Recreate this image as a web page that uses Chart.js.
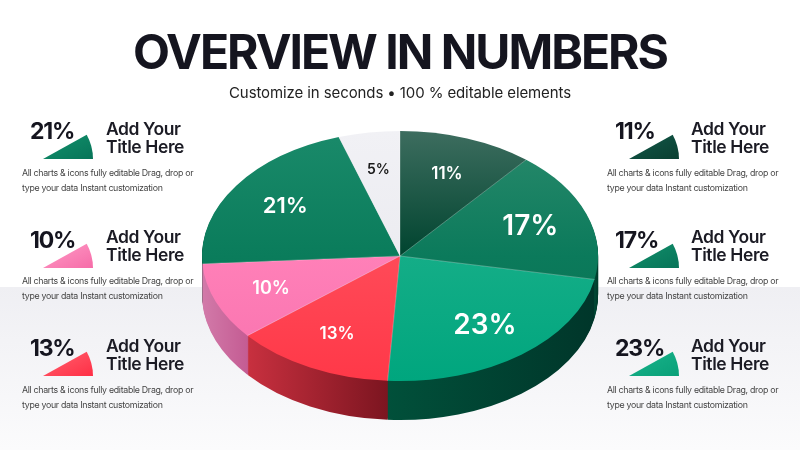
<!DOCTYPE html>
<html>
<head>
<meta charset="utf-8">
<script src="https://cdn.jsdelivr.net/npm/chart.js@4.4.1/dist/chart.umd.min.js"></script>
<style>
  body { margin: 0; width: 800px; height: 450px; overflow: hidden; background: #fff; font-family: Inter, "Noto Sans", sans-serif; position: relative; color: #1b1b24; }
  .band { position: absolute; left: 0; top: 287px; width: 800px; height: 163px; background: linear-gradient(#efeff3, #fbfbfc); }
  #chartBox { position: absolute; left: 0; top: 0; width: 800px; height: 450px; }
  .title { position: absolute; left: 0; width: 800px; top: 24px; text-align: center; font-size: 48px; font-weight: 700; letter-spacing: -2px; line-height: 56px; color: #15151f; }
  .subtitle { position: absolute; left: 0; width: 800px; top: 83px; text-align: center; font-size: 15px; letter-spacing: -0.1px; line-height: 20px; color: #222; }
  .pct { position: absolute; font-size: 23px; font-weight: 700; letter-spacing: -1.2px; line-height: 23px; color: #15151f; }
  .ptitle { position: absolute; font-size: 17.5px; font-weight: 600; letter-spacing: -0.4px; line-height: 18px; color: #1b1b24; }
  .pdesc { position: absolute; font-size: 8.8px; letter-spacing: -0.3px; line-height: 15px; color: #444; white-space: nowrap; }
  .wedge { position: absolute; }
</style>
</head>
<body>
<div class="band"></div>
<div id="chartBox"><canvas id="pie"></canvas></div>
<div class="title">OVERVIEW IN NUMBERS</div>
<div class="subtitle">Customize in seconds • 100 % editable elements</div>
<div id="panels"></div>
<script>
// slices clockwise from 12 o'clock
const sliceValues = [11, 17, 23, 13, 10, 21, 5];
const leftPanelValues = [21, 10, 13];
const rightPanelValues = [11, 17, 23];
const panelTitle = ['Add Your', 'Title Here'];
const panelText = ['All charts & icons fully editable Drag, drop or', 'type your data Instant customization'];

// looks
const topFills = [
  ['#3d6d5f', '#00442f', '#00442f'],
  ['#2a8a6c', '#0b7a5b', '#08704f'],
  ['#35b995', '#14ad87', '#00a67e'],
  ['#ff5c68', '#ff4a58', '#ff3848'],
  ['#ff8cc0', '#ff80b8', '#f872ae'],
  ['#1a8a6a', '#0a7c5b', '#08704f'],
  ['#f1f1f5', '#ececf1', '#e8e8ee']
];
const sideFills = [
  ['#00402e', '#003526'],
  ['#004a36', '#003a2a'],
  ['#01503a', '#00362a'],
  ['#c8303f', '#7c1520'],
  ['#d27aa9', '#c45c93'],
  ['#05553f', '#04472f'],
  ['#c9c9d0', '#b8b8c0']
];
const wedgeFills = [
  ['#12594a', '#0a3f31'],
  ['#12906c', '#077458'],
  ['#1ab48c', '#09a078'],
  ['#ff6470', '#ff2e45'],
  ['#ff9cc7', '#f66ca8'],
  ['#12926d', '#077458'],
  ['#eeeeee', '#dddddd']
];
const labelSizes = [17, 28, 28, 17, 18, 22, 14];
const labelColors = ['#fff', '#fff', '#fff', '#fff', '#fff', '#fff', '#1a1a1a'];

const CX = 400, CY = 256, RX = 198, RY = 125, DEPTH = 39;

// side panels
var panels = document.getElementById('panels');
function addPanel(value, i, side) {
  var k = sliceValues.indexOf(value);
  var top = 120 + i * 108.5;
  var pctX = side === 'left' ? 30 : 615;
  var wedgeX = side === 'left' ? 42 : 628;
  var titleX = side === 'left' ? 106 : 691;
  var descX = side === 'left' ? 22 : 607;
  var html = '';
  html += '<div class="pct" style="left:' + pctX + 'px;top:' + top + 'px">' + value + '%</div>';
  var gid = 'wg' + side + i;
  html += '<svg class="wedge" style="left:' + wedgeX + 'px;top:' + (top + 13) + 'px" width="52" height="27" viewBox="0 0 52 27">' +
    '<defs><linearGradient id="' + gid + '" x1="0" y1="0" x2="1" y2="1">' +
    '<stop offset="0" stop-color="' + wedgeFills[k][0] + '"/><stop offset="1" stop-color="' + wedgeFills[k][1] + '"/></linearGradient></defs>' +
    '<path d="M1 26 L51 26 A50 50 0 0 0 44.7 1.8 Z" fill="url(#' + gid + ')"/></svg>';
  html += '<div class="ptitle" style="left:' + titleX + 'px;top:' + (top - 0.5) + 'px">' + panelTitle[0] + '<br>' + panelTitle[1] + '</div>';
  html += '<div class="pdesc" style="left:' + descX + 'px;top:' + (top + 44.5) + 'px">' + panelText[0].replace('&', '&amp;') + '<br>' + panelText[1] + '</div>';
  panels.insertAdjacentHTML('beforeend', html);
}
leftPanelValues.forEach(function (v, i) { addPanel(v, i, 'left'); });
rightPanelValues.forEach(function (v, i) { addPanel(v, i, 'right'); });

// 3D look: squash the pie into an ellipse and stack darker copies below it
const pie3d = {
  id: 'pie3d',
  beforeDatasetsDraw(chart) {
    const ctx = chart.ctx;
    const arcs = chart.getDatasetMeta(0).data;
    const a0 = arcs[0];
    const cx = a0.x, cy = a0.y, R = a0.outerRadius;
    const sx = RX / R, sy = RY / R;
    // screen -> chart space
    const toX = function (X) { return cx + (X - CX) / sx; };
    const toY = function (Y, d) { return cy + (Y - CY - d) / sy; };

    function copy(arc, fill) {
      return new Chart.ArcElement({
        x: arc.x, y: arc.y, startAngle: arc.startAngle, endAngle: arc.endAngle,
        innerRadius: 0, outerRadius: arc.outerRadius, circumference: arc.circumference,
        fullCircles: 0,
        options: Object.assign({}, arc.options, { backgroundColor: fill, borderWidth: 0, offset: 0 })
      });
    }

    // side walls
    for (let d = DEPTH; d >= 1; d--) {
      ctx.save();
      ctx.translate(CX, CY + d);
      ctx.scale(sx, sy);
      ctx.translate(-cx, -cy);
      arcs.forEach(function (arc, i) {
        const s = Math.max(arc.startAngle, 0), e = Math.min(arc.endAngle, Math.PI);
        let fill = sideFills[i][1];
        if (e > s) {
          const xa = CX + RX * Math.cos(e), xb = CX + RX * Math.cos(s);
          const g = ctx.createLinearGradient(toX(xa), 0, toX(xb), 0);
          g.addColorStop(0, sideFills[i][0]);
          g.addColorStop(1, sideFills[i][1]);
          fill = g;
        }
        copy(arc, fill).draw(ctx);
      });
      ctx.restore();
    }

    // top face
    ctx.save();
    ctx.translate(CX, CY);
    ctx.scale(sx, sy);
    ctx.translate(-cx, -cy);
    arcs.forEach(function (arc, i) {
      const g = ctx.createLinearGradient(0, toY(CY - RY, 0), 0, toY(CY + RY, 0));
      g.addColorStop(0, topFills[i][0]);
      g.addColorStop(0.5, topFills[i][1]);
      g.addColorStop(1, topFills[i][2]);
      copy(arc, g).draw(ctx);
    });
    // thin light seams between slices
    ctx.strokeStyle = 'rgba(255,255,255,0.35)';
    ctx.lineWidth = 1 / sx;
    arcs.forEach(function (arc) {
      ctx.beginPath();
      ctx.moveTo(cx, cy);
      ctx.lineTo(cx + R * Math.cos(arc.startAngle), cy + R * Math.sin(arc.startAngle));
      ctx.stroke();
    });
    ctx.restore();

    // percentage labels
    arcs.forEach(function (arc, i) {
      const m = (arc.startAngle + arc.endAngle) / 2;
      const X = CX + 0.7 * RX * Math.cos(m);
      const Y = CY + 0.7 * RY * Math.sin(m);
      ctx.save();
      ctx.font = '600 ' + labelSizes[i] + 'px Inter, "Noto Sans", sans-serif';
      ctx.fillStyle = labelColors[i];
      ctx.textAlign = 'center';
      ctx.textBaseline = 'middle';
      ctx.fillText(sliceValues[i] + '%', X, Y);
      ctx.restore();
    });
    return false;
  }
};

new Chart(document.getElementById('pie'), {
  type: 'pie',
  data: {
    labels: sliceValues.map(function (v) { return v + '%'; }),
    datasets: [{
      data: sliceValues,
      backgroundColor: topFills.map(function (f) { return f[1]; }),
      borderWidth: 0
    }]
  },
  options: {
    responsive: true,
    maintainAspectRatio: false,
    animation: false,
    events: [],
    plugins: { legend: { display: false }, tooltip: { enabled: false } }
  },
  plugins: [pie3d]
});
</script>
</body>
</html>
